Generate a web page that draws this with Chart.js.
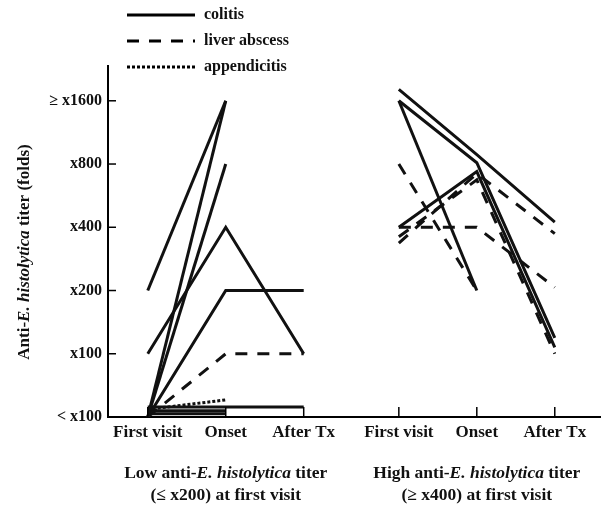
<!DOCTYPE html>
<html>
<head>
<meta charset="utf-8">
<script src="https://cdn.jsdelivr.net/npm/chart.js@4.4.1/dist/chart.umd.min.js"></script>
<style>
  html, body { margin: 0; padding: 0; background: #fff; }
</style>
</head>
<body>
<canvas id="titer" width="602" height="517"></canvas>
<script>
// time points and titer levels (level index: 0 = <x100 ... 5 = >=x1600)
var visits = ['First visit', 'Onset', 'After Tx'];
var titerLabels = ['< x100', 'x100', 'x200', 'x400', 'x800', '\u2265 x1600'];

// low titer group (<= x200 at first visit), one row per patient
var lowColitis = [
    [2, 5, null],
    [0, 5, null],
    [0, 4, null],
    [1, 3, 1],
    [0, 2, 2],
    [0.16, 0.16, 0.16],
    [0.1, 0.1, null],
    [0.05, 0.05, null]
];
var lowLiverAbscess = [
    [0, 1, 1]
];
var lowAppendicitis = [
    [0.12, 0.27, null]
];

// high titer group (>= x400 at first visit)
var highColitis = [
    [5.18, 4.15, 3.08],
    [5, 4.02, 1.25],
    [5, 2, null],
    [3, 3.88, 1.1]
];
var highLiverAbscess = [
    [4, 2, null],
    [3, 3, 2.05],
    [2.85, 3.75, 1.0],
    [2.75, 3.85, 2.9]
];

var SERIF = '"Liberation Serif", "DejaVu Serif", serif';
var INK = '#111';
var lineStyles = {
    colitis: [],
    abscess: [12, 10],
    appendicitis: [3, 2]
};
var panelStart = { low: 1, high: 4.22 };

function makeSets(rows, start, dash) {
    return rows.map(function (row) {
        return {
            data: row.map(function (v, i) { return { x: start + i, y: v }; }),
            borderColor: INK,
            borderWidth: 3,
            borderDash: dash,
            borderCapStyle: 'butt',
            pointRadius: 0,
            pointHoverRadius: 0,
            fill: false,
            tension: 0,
            spanGaps: false
        };
    });
}

var datasets = []
    .concat(makeSets(lowColitis, panelStart.low, lineStyles.colitis))
    .concat(makeSets(lowLiverAbscess, panelStart.low, lineStyles.abscess))
    .concat(makeSets(lowAppendicitis, panelStart.low, lineStyles.appendicitis))
    .concat(makeSets(highColitis, panelStart.high, lineStyles.colitis))
    .concat(makeSets(highLiverAbscess, panelStart.high, lineStyles.abscess));

var xTicks = [];
[panelStart.low, panelStart.high].forEach(function (s) {
    visits.forEach(function (v, i) { xTicks.push(s + i); });
});

function drawRich(ctx, parts, cx, cy, size) {
    var total = 0;
    parts.forEach(function (p) {
        ctx.font = (p[1] ? 'italic ' : '') + 'bold ' + size + 'px ' + SERIF;
        total += ctx.measureText(p[0]).width;
    });
    var x = cx - total / 2;
    ctx.textAlign = 'left';
    ctx.textBaseline = 'middle';
    parts.forEach(function (p) {
        ctx.font = (p[1] ? 'italic ' : '') + 'bold ' + size + 'px ' + SERIF;
        ctx.fillText(p[0], x, cy);
        x += ctx.measureText(p[0]).width;
    });
}

var decorations = {
    id: 'decorations',
    afterDraw: function (chart) {
        var ctx = chart.ctx;
        var xs = chart.scales.x, ys = chart.scales.y, a = chart.chartArea;
        ctx.save();
        ctx.strokeStyle = '#000';
        ctx.fillStyle = INK;
        ctx.lineWidth = 1.5;

        // inward tick marks
        ys.ticks.forEach(function (t) {
            if (t.value === 0) return;
            var y = ys.getPixelForValue(t.value);
            ctx.beginPath(); ctx.moveTo(a.left, y); ctx.lineTo(a.left + 8, y); ctx.stroke();
        });
        xs.ticks.forEach(function (t) {
            var x = xs.getPixelForValue(t.value);
            ctx.beginPath(); ctx.moveTo(x, a.bottom); ctx.lineTo(x, a.bottom - 10); ctx.stroke();
        });

        // legend
        var legend = [
            ['colitis', lineStyles.colitis],
            ['liver abscess', lineStyles.abscess],
            ['appendicitis', lineStyles.appendicitis]
        ];
        legend.forEach(function (item, i) {
            var y = 15 + i * 26;
            ctx.lineWidth = 3;
            ctx.setLineDash(item[1]);
            ctx.beginPath(); ctx.moveTo(127, y); ctx.lineTo(195, y); ctx.stroke();
            ctx.setLineDash([]);
            ctx.font = 'bold 16px ' + SERIF;
            ctx.textAlign = 'left';
            ctx.textBaseline = 'middle';
            ctx.fillText(item[0], 204, y);
        });

        // y-axis title
        ctx.save();
        ctx.translate(25, 252);
        ctx.rotate(-Math.PI / 2);
        drawRich(ctx, [['Anti-', false], ['E. histolytica', true], [' titer (folds)', false]], 0, 0, 17);
        ctx.restore();

        // group captions
        var lowMid = xs.getPixelForValue(panelStart.low + 1);
        var highMid = xs.getPixelForValue(panelStart.high + 1);
        drawRich(ctx, [['Low anti-', false], ['E. histolytica', true], [' titer', false]], lowMid, 473, 17.5);
        drawRich(ctx, [['(\u2264 x200) at first visit', false]], lowMid, 495, 17.5);
        drawRich(ctx, [['High anti-', false], ['E. histolytica', true], [' titer', false]], highMid, 473, 17.5);
        drawRich(ctx, [['(\u2265 x400) at first visit', false]], highMid, 495, 17.5);

        ctx.restore();
    }
};

new Chart(document.getElementById('titer'), {
    type: 'line',
    data: { datasets: datasets },
    plugins: [decorations],
    options: {
        responsive: false,
        devicePixelRatio: 1,
        animation: false,
        layout: { padding: { top: 66, right: 2, left: 0, bottom: 0 } },
        plugins: {
            legend: { display: false },
            tooltip: { enabled: false },
            title: { display: false }
        },
        scales: {
            x: {
                type: 'linear',
                min: 0.49,
                max: 6.8,
                afterBuildTicks: function (scale) {
                    scale.ticks = xTicks.map(function (v) { return { value: v }; });
                },
                afterFit: function (scale) { scale.height = 100; },
                grid: { display: false, drawTicks: false },
                border: { display: true, color: '#000', width: 2 },
                ticks: {
                    autoSkip: false,
                    maxRotation: 0,
                    padding: 5,
                    color: INK,
                    font: { family: SERIF, size: 17, weight: 'bold' },
                    callback: function (v, i) { return visits[i % visits.length]; }
                }
            },
            y: {
                type: 'linear',
                min: 0,
                max: 5.55,
                afterBuildTicks: function (scale) {
                    scale.ticks = titerLabels.map(function (l, i) { return { value: i }; });
                },
                afterFit: function (scale) { scale.width = 108; },
                grid: { display: false, drawTicks: false },
                border: { display: true, color: '#000', width: 2 },
                ticks: {
                    padding: 6,
                    color: INK,
                    font: { family: SERIF, size: 16, weight: 'bold' },
                    callback: function (v) { return titerLabels[v]; }
                }
            }
        }
    }
});
</script>
</body>
</html>
